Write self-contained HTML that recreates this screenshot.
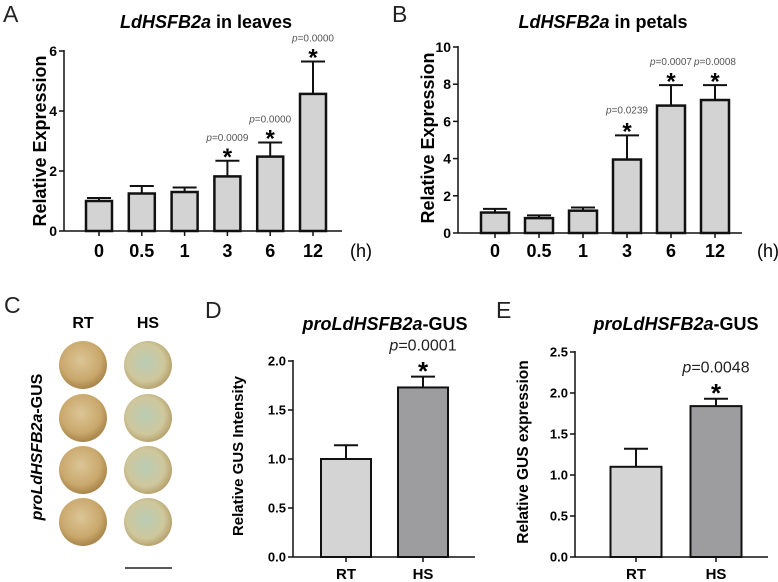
<!DOCTYPE html>
<html><head><meta charset="utf-8"><style>
html,body{margin:0;padding:0;background:#fff;}
svg{display:block;font-family:"Liberation Sans",Arial,sans-serif;}
</style></head><body>
<svg id="fig" width="778" height="582" viewBox="0 0 778 582">
<defs>
<radialGradient id="gRT" cx="45%" cy="40%" r="60%">
<stop offset="0" stop-color="#dcc596"/><stop offset="0.7" stop-color="#c9a86c"/><stop offset="1" stop-color="#a8854a"/>
</radialGradient>
<radialGradient id="gHS" cx="45%" cy="45%" r="60%">
<stop offset="0" stop-color="#b9cdb6"/><stop offset="0.65" stop-color="#cfc79c"/><stop offset="1" stop-color="#b19a63"/>
</radialGradient>
</defs>
<g id="panels"></g>
<g>
<text x="4" y="313" font-size="23" fill="#222">C</text>
<text x="83" y="328" font-size="16" font-weight="bold" text-anchor="middle">RT</text>
<text x="148" y="328" font-size="16" font-weight="bold" text-anchor="middle">HS</text>
<text transform="translate(42,447) rotate(-90)" font-size="16" font-weight="bold" text-anchor="middle"><tspan font-style="italic">proLdHSFB2a</tspan>-GUS</text>
<circle cx="83" cy="365" r="24" fill="url(#gRT)"/>
<circle cx="83" cy="418" r="24" fill="url(#gRT)"/>
<circle cx="83" cy="470" r="24" fill="url(#gRT)"/>
<circle cx="83" cy="522" r="24" fill="url(#gRT)"/>
<circle cx="148" cy="365" r="24" fill="url(#gHS)"/>
<circle cx="148" cy="418" r="24" fill="url(#gHS)"/>
<circle cx="148" cy="470" r="24" fill="url(#gHS)"/>
<circle cx="148" cy="522" r="24" fill="url(#gHS)"/>
<line x1="125" y1="568" x2="172" y2="568" stroke="#222" stroke-width="1.5"/>
</g>
</svg>
<script>
const catsA=['0','0.5','1','3','6','12'];
const valsA=[1.0,1.25,1.3,1.82,2.48,4.57];
const errA=[0.1,0.25,0.15,0.52,0.47,1.08];
const pA=[null,null,null,'0.0009','0.0000','0.0000'];
const ticksA=[0,2,4,6];
const catsB=['0','0.5','1','3','6','12'];
const valsB=[1.1,0.8,1.2,3.95,6.85,7.15];
const errB=[0.2,0.15,0.17,1.3,1.1,0.8];
const pB=[null,null,null,'0.0239','0.0007','0.0008'];
const ticksB=[0,2,4,6,8,10];
const catsD=['RT','HS'];
const valsD=[1.0,1.73];
const errD=[0.14,0.11];
const pD=[null,'0.0001'];
const ticksD=[0,0.5,1.0,1.5,2.0];
const catsE=['RT','HS'];
const valsE=[1.1,1.84];
const errE=[0.22,0.09];
const pE=[null,'0.0048'];
const ticksE=[0,0.5,1.0,1.5,2.0,2.5];

const NS='http://www.w3.org/2000/svg';
const root=document.getElementById('panels');
function mk(tag,attrs,parent,txt){const e=document.createElementNS(NS,tag);for(const k in attrs)e.setAttribute(k,attrs[k]);if(txt!==undefined)e.textContent=txt;parent.appendChild(e);return e;}

function drawPanel(cfg,cats,vals,errs,ps,ticks){
  const g=mk('g',{},root);
  
  
  const yS=v=>cfg.y0-(v-0)/(cfg.ymax)*(cfg.y0-cfg.ytop);
  const xS=i=>cfg.x0+cfg.firstC+i*cfg.step;
  const L=mk('text',{x:cfg.lx,y:cfg.ly,'font-size':23,fill:'#222'},g,cfg.letter);
  
  
  const T=mk('text',{x:cfg.tx,y:cfg.ty,'font-size':cfg.tfs,'font-weight':'bold','text-anchor':'middle'},g);
  
  
  mk('tspan',{'font-style':'italic'},T,cfg.t1);mk('tspan',{},T,cfg.t2);
  const YL=mk('text',{transform:`translate(${cfg.ylx},${cfg.yly}) rotate(-90)`,'font-size':cfg.ylfs,'font-weight':'bold','text-anchor':'middle'},g,cfg.ylabel);
  
  
  vals.forEach((v,i)=>{
    const cx=xS(i),top=yS(v),et=yS(v+errs[i]);
    const eb=mk('line',{x1:cx,y1:top,x2:cx,y2:et,stroke:'#111','stroke-width':2},g);
    
    
    const cap=mk('line',{x1:cx-cfg.cap,y1:et,x2:cx+cfg.cap,y2:et,stroke:'#111','stroke-width':2},g);
    
    
    const fill=cfg.colors?cfg.colors[i]:'#d3d3d3';
    const r=mk('rect',{x:cx-cfg.bw/2,y:top,width:cfg.bw,height:cfg.y0-top,fill:fill,stroke:'#111','stroke-width':cfg.sw},g);
    
    
    if(ps[i]){
      const py=(cfg.pRow&&i>=4)?cfg.pRow:et-cfg.pOff;
      const pt=mk('text',{x:cx,y:py,'font-size':cfg.pfs,fill:cfg.pcol,'text-anchor':'middle'},g);
      
      
      mk('tspan',{'font-style':'italic'},pt,'p');mk('tspan',{},pt,'='+ps[i]);
      const st=mk('text',{x:cx,y:et-cfg.sOff+cfg.sfs*0.55,'font-size':cfg.sfs,'font-weight':'bold','text-anchor':'middle'},g,'*');
      
      
    }
    const tk=mk('line',{x1:cx,y1:cfg.y0,x2:cx,y2:cfg.y0+5,stroke:'#111','stroke-width':1.5},g);
    
    
    const xl=mk('text',{x:cx,y:cfg.xly,'font-size':cfg.xfs,'font-weight':'bold','text-anchor':'middle'},g,cats[i]);
    
    
  });
  const ya=mk('line',{x1:cfg.x0,y1:cfg.ytop-1,x2:cfg.x0,y2:cfg.y0,stroke:'#111','stroke-width':1.5},g);
  
  
  const xa=mk('line',{x1:cfg.x0,y1:cfg.y0,x2:cfg.xend,y2:cfg.y0,stroke:'#111','stroke-width':1.5},g);
  
  
  ticks.forEach(t=>{
    const y=yS(t);
    const tl=mk('line',{x1:cfg.x0-5,y1:y,x2:cfg.x0,y2:y,stroke:'#111','stroke-width':1.5},g);
    
    
    const lab=mk('text',{x:cfg.x0-7,y:y+cfg.yfs*0.36,'font-size':cfg.yfs,'font-weight':'bold','text-anchor':'end'},g,cfg.dec?t.toFixed(1):String(t));
    
    
  });
  if(cfg.unit){
    const u=mk('text',{x:cfg.ux,y:cfg.xly,'font-size':18,'text-anchor':'middle'},g,'(h)');
    
    
  }
}

drawPanel({id:'panel-a',letter:'A',lx:3,ly:22,t1:'LdHSFB2a',t2:' in leaves',tx:206,ty:28,tfs:18,
  ylabel:'Relative Expression',ylx:46,yly:141,ylfs:18,x0:64,y0:231,ytop:51,ymax:6,xend:342,firstC:35,step:42.8,
  bw:26,sw:2.5,cap:12,pOff:20,pfs:10,pcol:'#555',sOff:9,sfs:24,xly:257,xfs:18,yfs:14,unit:true,ux:361},
  catsA,valsA,errA,pA,ticksA);
drawPanel({id:'panel-b',letter:'B',lx:392,ly:22,t1:'LdHSFB2a',t2:' in petals',tx:603,ty:28,tfs:18,
  ylabel:'Relative Expression',ylx:434,yly:138,ylfs:18,x0:458,y0:233,ytop:47,ymax:10,xend:742,firstC:37,step:44,
  bw:28,sw:2.5,cap:12,pOff:22,pRow:65,pfs:10,pcol:'#555',sOff:9,sfs:24,xly:257,xfs:18,yfs:14,unit:true,ux:768},
  catsB,valsB,errB,pB,ticksB);
drawPanel({id:'panel-d',letter:'D',lx:205,ly:318,t1:'proLdHSFB2a',t2:'-GUS',tx:385,ty:330,tfs:18,
  ylabel:'Relative GUS Intensity',ylx:243,yly:456,ylfs:15,x0:293,y0:557,ytop:361,ymax:2,xend:475,firstC:53,step:77,
  bw:50,sw:2,cap:12,pOff:26,pfs:16,pcol:'#222',sOff:11,sfs:26,xly:579,xfs:15,yfs:13,dec:true,
  colors:['#d4d4d4','#9d9d9f']},
  catsD,valsD,errD,pD,ticksD);
drawPanel({id:'panel-e',letter:'E',lx:496,ly:318,t1:'proLdHSFB2a',t2:'-GUS',tx:676,ty:330,tfs:18,
  ylabel:'Relative GUS expression',ylx:528,yly:452,ylfs:15.5,x0:575,y0:557,ytop:352,ymax:2.5,xend:768,firstC:61,step:80,
  bw:51,sw:2,cap:12,pOff:26,pfs:16,pcol:'#222',sOff:11,sfs:26,xly:579,xfs:15,yfs:13,dec:true,
  colors:['#d4d4d4','#9d9d9f']},
  catsE,valsE,errE,pE,ticksE);
</script>
</body></html>
